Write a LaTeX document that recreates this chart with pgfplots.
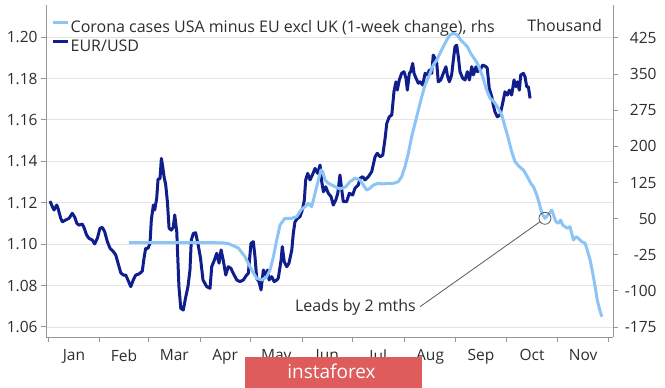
\documentclass[border=0pt]{standalone}
\usepackage{fontspec}
\setmainfont{Open Sans}
\usepackage{pgfplots}
\pgfplotsset{compat=1.18}
\usepackage{pgfplotstable}
\definecolor{eurblue}{RGB}{16,30,140}
\definecolor{covblue}{RGB}{140,196,245}
\definecolor{gridc}{RGB}{228,228,232}
\definecolor{axisc}{RGB}{150,150,150}
\definecolor{txt}{RGB}{45,45,45}
\definecolor{wm}{RGB}{222,92,92}

\pgfplotstableread{
d v
1.2 1.1208
2.6 1.1181
3.6 1.1165
5.2 1.1189
6.0 1.1173
7.6 1.1125
8.6 1.1108
10.6 1.1117
12.6 1.1125
14.5 1.1149
16.0 1.1130
17.2 1.1101
18.5 1.1092
20.5 1.1097
21.5 1.1081
23.1 1.1044
24.5 1.1028
26.5 1.1020
27.9 1.1001
29.5 1.1028
31.1 1.1077
32.5 1.1081
33.9 1.1060
35.5 1.1012
37.1 1.0980
39.1 1.0964
40.5 1.0948
41.9 1.0908
43.5 1.0862
45.0 1.0851
46.5 1.0851
47.8 1.0827
49.5 1.0795
51.0 1.0827
52.5 1.0851
54.4 1.0856
56.4 1.0870
57.4 1.0932
58.4 1.0980
59.8 1.0980
61.0 1.1004
61.8 1.1117
63.0 1.1189
63.8 1.1165
65.0 1.1221
65.8 1.1313
67.0 1.1318
67.8 1.1414
68.6 1.1374
69.4 1.1326
70.4 1.1286
71.4 1.1205
72.4 1.1077
73.7 1.1068
74.9 1.1081
75.8 1.1141
77.0 1.1060
78.3 1.0795
79.4 1.0690
80.9 1.0682
82.4 1.0746
83.7 1.0795
84.9 1.0875
85.7 1.1020
86.9 1.1052
88.3 1.1055
89.7 1.1001
91.2 1.0933
92.7 1.0827
94.9 1.0795
96.9 1.0787
97.9 1.0891
99.5 1.0923
100.9 1.0956
102.3 1.0908
103.5 1.0972
104.8 1.0923
106.3 1.0851
107.8 1.0891
109.4 1.0883
110.8 1.0859
112.9 1.0827
114.8 1.0819
116.8 1.0827
118.8 1.0851
119.8 1.0859
121.4 1.1004
122.8 1.1012
123.8 1.0939
124.8 1.0835
126.2 1.0819
127.4 1.0779
128.8 1.0875
130.2 1.0851
131.4 1.0875
132.2 1.0827
133.8 1.0843
135.3 1.0819
136.8 1.0827
137.7 1.0835
139.4 1.0923
140.1 1.0988
141.3 1.0915
142.8 1.0891
144.1 1.0908
145.8 1.0972
146.7 1.1052
147.7 1.1108
149.3 1.1125
150.7 1.1133
152.1 1.1165
153.3 1.1213
154.1 1.1310
155.3 1.1342
156.7 1.1310
158.1 1.1334
159.7 1.1366
161.3 1.1342
162.7 1.1382
163.7 1.1302
164.7 1.1253
166.1 1.1277
167.6 1.1246
169.3 1.1229
170.6 1.1189
172.1 1.1213
173.3 1.1246
174.6 1.1334
175.7 1.1261
176.6 1.1205
178.6 1.1205
180.2 1.1246
182.2 1.1237
183.6 1.1270
185.6 1.1286
186.6 1.1318
188.2 1.1326
189.6 1.1310
191.6 1.1326
193.6 1.1350
195.6 1.1422
196.9 1.1439
198.6 1.1422
200.2 1.1430
201.6 1.1511
202.6 1.1583
204.1 1.1615
205.6 1.1624
206.9 1.1736
208.1 1.1784
208.9 1.1744
210.1 1.1793
211.5 1.1825
212.9 1.1833
214.1 1.1801
214.9 1.1744
216.1 1.1825
216.9 1.1833
218.1 1.1873
218.9 1.1825
220.1 1.1801
221.5 1.1777
222.5 1.1784
224.1 1.1768
225.5 1.1825
226.9 1.1817
228.1 1.1841
229.5 1.1825
230.4 1.1913
231.5 1.1897
232.5 1.1873
233.4 1.1784
234.9 1.1793
236.4 1.1825
238.0 1.1857
238.8 1.1817
240.0 1.1784
241.4 1.1817
242.4 1.1889
243.4 1.1953
244.4 1.1961
245.4 1.1905
246.4 1.1833
248.0 1.1801
249.4 1.1793
250.8 1.1833
252.0 1.1793
253.4 1.1857
254.4 1.1817
256.0 1.1857
256.8 1.1833
258.4 1.1841
260.0 1.1865
262.0 1.1857
262.7 1.1849
263.9 1.1752
265.4 1.1712
266.3 1.1672
267.3 1.1639
268.7 1.1615
270.3 1.1624
271.9 1.1680
273.3 1.1736
274.7 1.1720
275.9 1.1744
277.3 1.1720
278.7 1.1793
279.9 1.1760
280.7 1.1784
281.9 1.1744
282.7 1.1817
284.3 1.1825
285.3 1.1808
286.3 1.1760
287.3 1.1760
288.3 1.1704
}\eurdata

\pgfplotstableread{
d v
48.4 0
100 0
105 -0.5
108 -2
110.6 -6
113.8 -11
117.8 -29
121.8 -56.7
124.8 -73.9
127.8 -77.4
130.8 -70.6
132.8 -56.7
134.8 -29
136.8 5.6
138.8 36.8
141.7 50.7
145.8 50.7
148.7 54
151.3 67.9
153.7 74.8
155.7 81.8
157.7 74.8
159.7 102.6
161.7 130.2
163.3 151
164.3 147.4
165.7 130.2
167.6 123.3
169.7 119.8
171.7 116.3
173.6 113
175.7 113
178.1 116.3
180.6 126.7
183.6 133.7
186.6 130.2
188.6 119.8
190.6 109.4
192.6 113
194.6 119.8
197.5 123.3
200.5 121.9
203.5 123.3
206.5 123.3
209.5 126.7
211.5 137
213.5 157.8
215.5 185.6
217.5 220.1
219.5 247.9
221.5 275.5
223.5 303.1
225.5 327.4
228.1 348.2
230.4 368.9
232.5 379.3
234.4 393.2
236.4 406.9
238.5 420.8
240.4 431.2
242.4 434.7
244.8 431.2
246.8 420.8
248.8 414
250.8 406.9
252.8 393.2
254.8 382.8
256.8 372.5
258.4 358.6
260.0 344.7
261.4 327.4
262.7 313.5
264.4 299.8
266.7 292.7
268.7 282.4
271.4 265.1
273.3 240.8
275.3 216.8
277.3 188.9
279.3 168.2
281.9 157.8
284.3 151
286.7 137
288.7 123.3
290.3 116.3
292.3 99
293.8 81.8
295.3 61.1
297.2 50.7
299.8 61.1
301.3 67.9
302.6 54
303.8 43.6
305.2 40.3
306.6 47.1
307.8 36.8
309.2 33.2
310.6 29.9
312.2 33.2
313.2 19.5
314.2 5.6
315.8 12.5
317.2 9.2
319.2 2.1
321.2 -1.2
322.5 -15.1
324.2 -35.9
325.8 -63.5
327.2 -91.3
328.5 -118.9
329.7 -136.2
331.2 -153.6
}\coviddata

\begin{document}
\begin{tikzpicture}
\path[use as bounding box] (-46bp,-51bp) rectangle (619bp,337bp);
\begin{axis}[
  at={(0,0)}, anchor=south west,
  scale only axis, width=567bp, height=332bp,
  xmin=-1.2, xmax=337.9,
  ymin=1.05517, ymax=1.2155,
  axis x line*=bottom, axis y line*=left,
  axis line style={axisc, line width=1bp},
  xtick={0,31,60,91,121,152,182,213,244,274,305,335},
  xticklabels={Jan,Feb,Mar,Apr,May,Jun,Jul,Aug,Sep,Oct,Nov},
  x tick label as interval,
  xticklabel style={yshift=-4bp},
  ytick={1.06,1.08,1.10,1.12,1.14,1.16,1.18,1.20},
  yticklabel style={/pgf/number format/.cd, fixed, fixed zerofill, precision=2},
  ymajorgrids, grid style={gridc, line width=0.9bp},
  tick align=outside, major tick length=5bp,
  tick style={axisc, line width=1bp},
  tick label style={font=\fontsize{15.5bp}{18bp}\selectfont, text=txt},
  /pgf/number format/assume math mode=true,
]
\addplot[eurblue, line width=3bp, line join=round] table[x=d,y=v]{\eurdata};
\end{axis}
\begin{axis}[
  at={(0,0)}, anchor=south west,
  scale only axis, width=567bp, height=332bp,
  xmin=-1.2, xmax=337.9,
  ymin=-195.76, ymax=493.5,
  axis x line=none, axis y line*=right,
  axis line style={axisc, line width=1bp},
  ytick={-175,-100,...,425},
  tick align=outside, major tick length=5bp,
  tick style={axisc, line width=1bp},
  tick label style={font=\fontsize{15.5bp}{18bp}\selectfont, text=txt},
  yticklabel style={anchor=east, xshift=42bp},
  /pgf/number format/assume math mode=true,
  legend style={draw=none, fill=none, at={(0,1)}, anchor=north west,
    xshift=5bp, yshift=-14bp, inner sep=0pt, row sep=4bp,
    font=\fontsize{16bp}{19bp}\selectfont, text=txt,
    nodes={inner sep=1bp}},
  legend cell align=left,
  legend image code/.code={\draw[#1] (0bp,5bp) -- (15bp,5bp);},
]
\addplot[covblue, line width=3bp, line join=round] table[x=d,y=v]{\coviddata};
\addlegendentry{Corona cases USA minus EU excl UK (1-week change), rhs}
\addlegendimage{eurblue, line width=3.5bp}
\addlegendentry{EUR/USD}
\draw[black!65, line width=0.8bp, shorten >=6bp] (axis cs:222.5,-132.9) -- (axis cs:297.2,50.7);
\draw[black!65, line width=0.8bp] (axis cs:297.2,50.7) circle[radius=6bp];
\end{axis}
\node[anchor=base east, inner sep=0pt, text=txt, font=\fontsize{16bp}{19bp}\selectfont] at (556bp,305bp) {Thousand};
\node[anchor=base east, inner sep=0pt, text=txt, font=\fontsize{16bp}{19bp}\selectfont] at (370bp,25.3bp) {Leads by 2 mths};
\fill[wm] (199bp,-20bp) rectangle (376bp,-51bp);
\node[anchor=base, inner sep=0pt, text=white, font=\fontsize{19bp}{20bp}\selectfont] at (285.5bp,-41bp) {instaforex};
\end{tikzpicture}
\end{document}
